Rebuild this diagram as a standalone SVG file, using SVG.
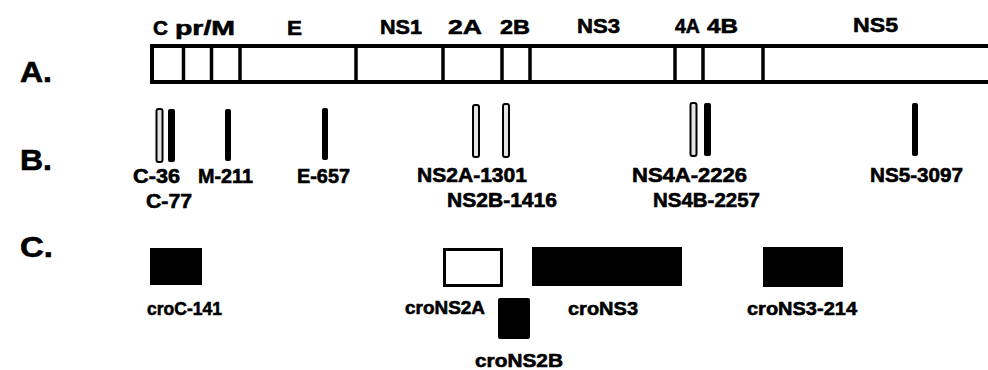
<svg xmlns="http://www.w3.org/2000/svg" width="988" height="370" viewBox="0 0 988 370">
<style>
text{font-family:"Liberation Sans",Arial,sans-serif;font-weight:bold;fill:#000;stroke:#000;stroke-width:0.6}
.panel{font-size:29px}
.seg{font-size:21px}
.mut{font-size:20px}
.con{font-size:19px}
.bar{fill:#fff;stroke:#000;stroke-width:4}
.div{stroke:#000;stroke-width:3.5}
.hollow{fill:#e4e4e4;stroke:#000;stroke-width:2}
.solid{fill:#000}
.box{fill:#000}
.obox{fill:#fff;stroke:#000;stroke-width:3}
</style>
<rect width="988" height="370" fill="#fff"/>

<g id="panel-labels">
<text class="panel" x="20" y="82" textLength="32" lengthAdjust="spacingAndGlyphs">A.</text>
<text class="panel" x="20" y="170" textLength="32" lengthAdjust="spacingAndGlyphs">B.</text>
<text class="panel" x="20" y="257" textLength="33" lengthAdjust="spacingAndGlyphs">C.</text>
</g>

<g id="genome">
<rect class="bar" x="152" y="46" width="840" height="36"/>
<g id="segment-dividers">
<line class="div" x1="183.5" y1="46" x2="183.5" y2="82"/>
<line class="div" x1="211.5" y1="46" x2="211.5" y2="82"/>
<line class="div" x1="240" y1="46" x2="240" y2="82"/>
<line class="div" x1="356" y1="46" x2="356" y2="82"/>
<line class="div" x1="443" y1="46" x2="443" y2="82"/>
<line class="div" x1="502" y1="46" x2="502" y2="82"/>
<line class="div" x1="530" y1="46" x2="530" y2="82"/>
<line class="div" x1="675" y1="46" x2="675" y2="82"/>
<line class="div" x1="703" y1="46" x2="703" y2="82"/>
<line class="div" x1="763" y1="46" x2="763" y2="82"/>
</g>
<g id="segment-labels">
<text class="seg" x="153" y="35" textLength="15" lengthAdjust="spacingAndGlyphs">C</text>
<text class="seg" x="175" y="35" textLength="60" lengthAdjust="spacingAndGlyphs">pr/M</text>
<text class="seg" x="287" y="35" textLength="15" lengthAdjust="spacingAndGlyphs">E</text>
<text class="seg" x="380" y="34" textLength="42" lengthAdjust="spacingAndGlyphs">NS1</text>
<text class="seg" x="448" y="34" textLength="34" lengthAdjust="spacingAndGlyphs">2A</text>
<text class="seg" x="500" y="34" textLength="30" lengthAdjust="spacingAndGlyphs">2B</text>
<text class="seg" x="577" y="33" textLength="43" lengthAdjust="spacingAndGlyphs">NS3</text>
<text class="seg" x="675" y="33" textLength="25" lengthAdjust="spacingAndGlyphs">4A</text>
<text class="seg" x="707" y="33" textLength="31" lengthAdjust="spacingAndGlyphs">4B</text>
<text class="seg" x="853" y="32" textLength="45" lengthAdjust="spacingAndGlyphs">NS5</text>
</g>
</g>

<g id="connectors"></g>

<g id="mutations">
<g id="mut-C-36"><rect class="hollow" x="156.5" y="109" width="6" height="53" rx="2"/><text class="mut" x="133" y="183" textLength="47" lengthAdjust="spacingAndGlyphs">C-36</text></g>
<g id="mut-C-77"><rect class="solid" x="168" y="109" width="7" height="53" rx="2"/><text class="mut" x="146" y="208" textLength="46" lengthAdjust="spacingAndGlyphs">C-77</text></g>
<g id="mut-M-211"><rect class="solid" x="225" y="109" width="6" height="52" rx="2"/><text class="mut" x="198" y="183" textLength="55" lengthAdjust="spacingAndGlyphs">M-211</text></g>
<g id="mut-E-657"><rect class="solid" x="322" y="108" width="6" height="52" rx="2"/><text class="mut" x="297" y="183" textLength="53" lengthAdjust="spacingAndGlyphs">E-657</text></g>
<g id="mut-NS2A-1301"><rect class="hollow" x="473" y="105" width="6" height="52" rx="2"/><text class="mut" x="417" y="182" textLength="110" lengthAdjust="spacingAndGlyphs">NS2A-1301</text></g>
<g id="mut-NS2B-1416"><rect class="hollow" x="503" y="104" width="6" height="53" rx="2"/><text class="mut" x="447" y="207" textLength="110" lengthAdjust="spacingAndGlyphs">NS2B-1416</text></g>
<g id="mut-NS4A-2226"><rect class="hollow" x="690.5" y="103" width="6" height="53" rx="2"/><text class="mut" x="632" y="182" textLength="115" lengthAdjust="spacingAndGlyphs">NS4A-2226</text></g>
<g id="mut-NS4B-2257"><rect class="solid" x="704" y="103" width="7" height="53" rx="2"/><text class="mut" x="653" y="207" textLength="107" lengthAdjust="spacingAndGlyphs">NS4B-2257</text></g>
<g id="mut-NS5-3097"><rect class="solid" x="912" y="103" width="6" height="53" rx="2"/><text class="mut" x="870" y="182" textLength="93" lengthAdjust="spacingAndGlyphs">NS5-3097</text></g>
</g>

<g id="constructs">
<g id="croC-141"><rect class="box" x="150" y="248" width="52" height="37"/><text class="con" x="147" y="315" textLength="75" lengthAdjust="spacingAndGlyphs">croC-141</text></g>
<g id="croNS2A"><rect class="obox" x="444.5" y="249.5" width="57" height="36"/><text class="con" x="405" y="314" textLength="80" lengthAdjust="spacingAndGlyphs">croNS2A</text></g>
<g id="croNS2B"><rect class="box" x="498" y="298" width="32" height="41" rx="2"/><text class="con" x="475" y="367" textLength="88" lengthAdjust="spacingAndGlyphs">croNS2B</text></g>
<g id="croNS3"><rect class="box" x="532" y="247" width="150" height="39"/><text class="con" x="568" y="315" textLength="70" lengthAdjust="spacingAndGlyphs">croNS3</text></g>
<g id="croNS3-214"><rect class="box" x="763" y="247" width="80" height="40"/><text class="con" x="747" y="315" textLength="110" lengthAdjust="spacingAndGlyphs">croNS3-214</text></g>
</g>
</svg>
